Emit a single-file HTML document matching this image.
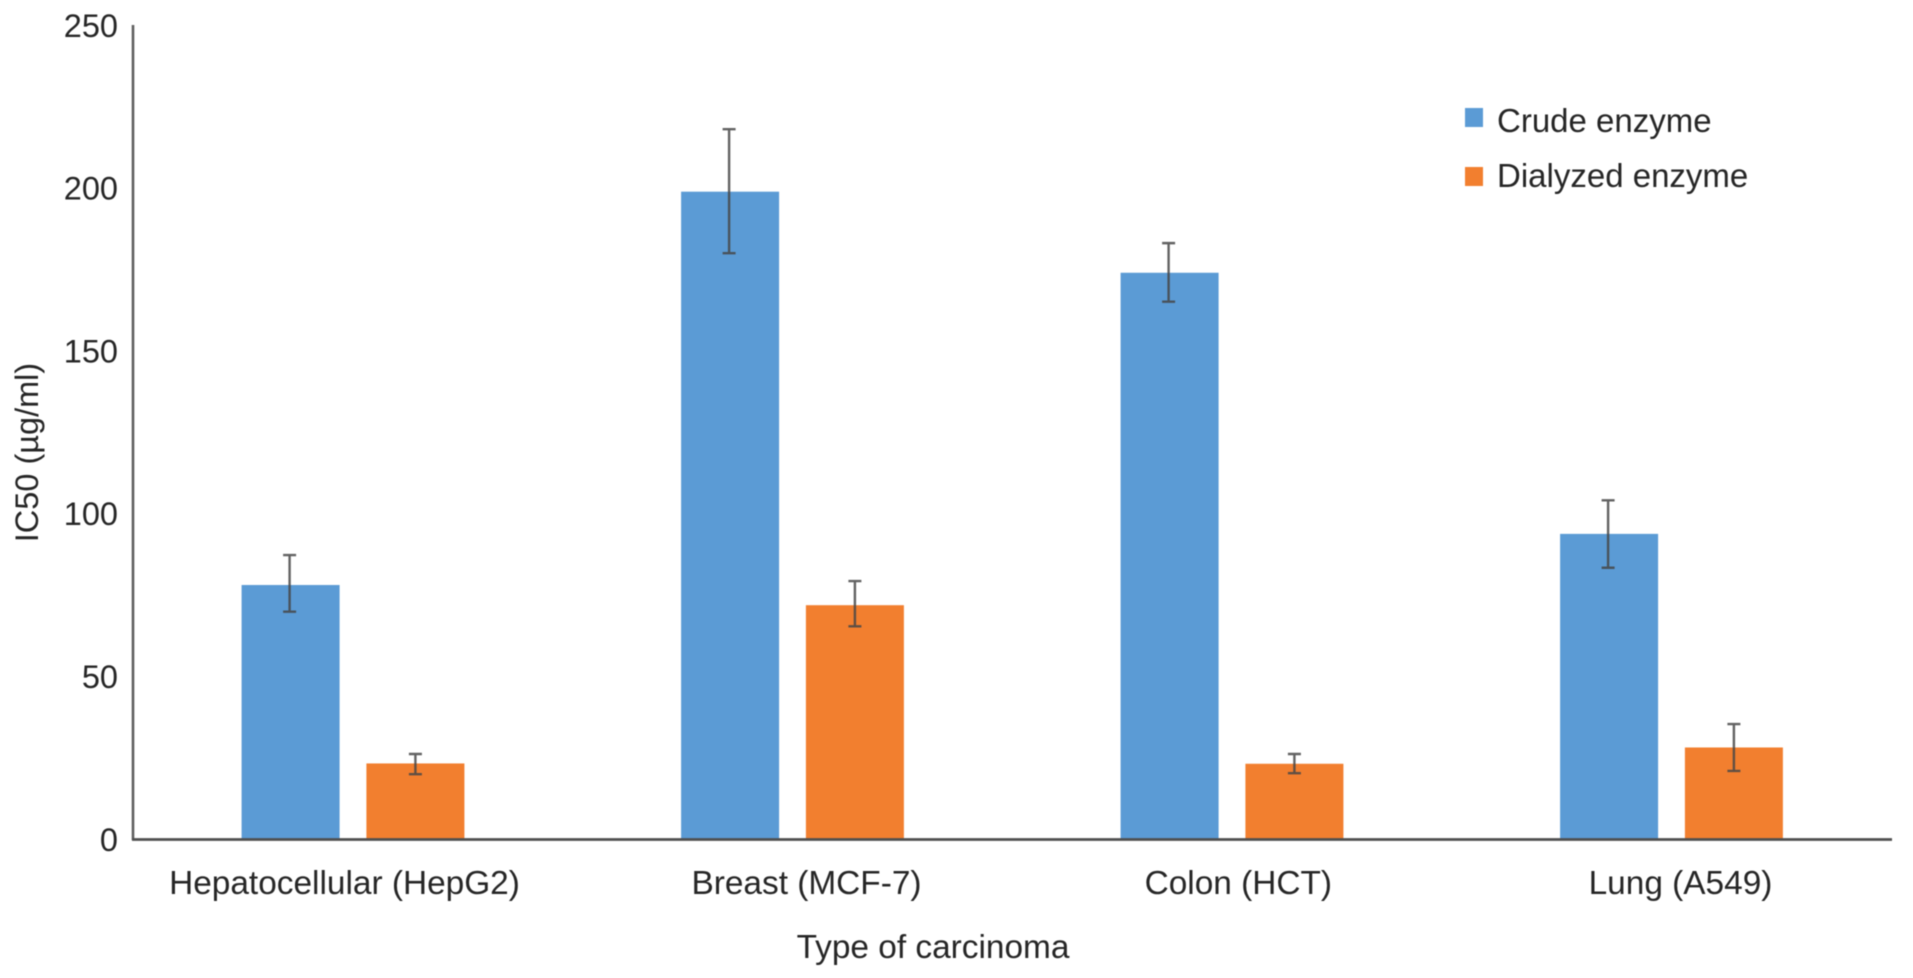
<!DOCTYPE html>
<html lang="en">
<head>
<meta charset="utf-8">
<title>IC50 by type of carcinoma</title>
<style>
  html, body { margin: 0; padding: 0; background: #fff; }
  body { width: 1913px; height: 978px; overflow: hidden; }
  svg { display: block; filter: blur(0.6px); }
  text { font-family: "Liberation Sans", Arial, sans-serif; fill: #262626; font-size: 32.5px; }
  .cat { font-size: 33.4px; }
</style>
</head>
<body>
<svg id="chart" xmlns="http://www.w3.org/2000/svg" width="1913" height="978" viewBox="0 0 1913 978">
  <rect x="0" y="0" width="1913" height="978" fill="#ffffff"/>
  <g id="bars"></g>
  <g id="errors"></g>
  <line x1="133" y1="25" x2="133" y2="840" stroke="#5f5f5f" stroke-width="2.6"/>
  <line x1="132" y1="839.5" x2="1892" y2="839.5" stroke="#4f4f4f" stroke-width="2.8"/>
  <g id="y-ticks"></g>
  <g id="x-ticks"></g>
  <text transform="translate(38 452.5) rotate(-90)" text-anchor="middle">IC50 (µg/ml)</text>
  <text class="cat" x="933" y="958" text-anchor="middle">Type of carcinoma</text>
  <g>
    <g>
      <rect x="1465" y="108" width="18" height="19" fill="#5b9bd5"/>
      <text x="1497" y="132" style="font-size:33px">Crude enzyme</text>
    </g>
    <g>
      <rect x="1465" y="167" width="18" height="19" fill="#f27f2f"/>
      <text x="1497" y="187" style="font-size:33px">Dialyzed enzyme</text>
    </g>
  </g>
</svg>
<script>
const categories = ["Hepatocellular (HepG2)", "Breast (MCF-7)", "Colon (HCT)", "Lung (A549)"];
const yTickValues = [0, 50, 100, 150, 200, 250];
const crudeValues = [78.1, 198.9, 174, 93.8];
const crudeErrHigh = [87.3, 218.1, 183.1, 104.1];
const crudeErrLow = [69.9, 180, 165.1, 83.4];
const dialyzedValues = [23.3, 71.9, 23.2, 28.2];
const dialyzedErrHigh = [26.2, 79.3, 26.2, 35.4];
const dialyzedErrLow = [20, 65.4, 20.3, 21];

const SVG_NS = "http://www.w3.org/2000/svg";
const PLOT_BOTTOM = 839.3;
const PX_PER_UNIT = 3.256;
const GROUP_LEFT = 241.6;
const GROUP_STEP = 439.5;
const BAR_WIDTH = 98;
const DIALYZED_OFFSET = 124.8;
const CAP_HALF = 6.5;

function yScale(v) { return PLOT_BOTTOM - v * PX_PER_UNIT; }
function groupX(i) { return GROUP_LEFT + i * GROUP_STEP; }

function drawBar(parent, name, x, value, color) {
  const r = document.createElementNS(SVG_NS, "rect");
  
  
  r.setAttribute("x", x);
  r.setAttribute("y", yScale(value));
  r.setAttribute("width", BAR_WIDTH);
  r.setAttribute("height", PLOT_BOTTOM - yScale(value));
  r.setAttribute("fill", color);
  parent.appendChild(r);
}

function drawError(parent, name, cx, hi, lo) {
  const p = document.createElementNS(SVG_NS, "path");
  
  
  const t = yScale(hi);
  const b = yScale(lo);
  p.setAttribute("d",
    "M" + (cx - CAP_HALF) + " " + t + "H" + (cx + CAP_HALF) +
    "M" + cx + " " + t + "V" + b +
    "M" + (cx - CAP_HALF) + " " + b + "H" + (cx + CAP_HALF));
  p.setAttribute("fill", "none");
  p.setAttribute("stroke", "#474747");
  p.setAttribute("stroke-opacity", "0.85");
  p.setAttribute("stroke-width", "2.4");
  parent.appendChild(p);
}

function render() {
  const bars = document.getElementById("bars");
  const errors = document.getElementById("errors");
  const xTicks = document.getElementById("x-ticks");
  const yTicks = document.getElementById("y-ticks");
  const labelNudge = [-8.5, 14, 6.3, 9];

  categories.forEach(function (cat, i) {
    const x0 = groupX(i);
    const x1 = x0 + DIALYZED_OFFSET;
    drawBar(bars, "bar-crude-" + (i + 1), x0, crudeValues[i], "#5b9bd5");
    drawBar(bars, "bar-dialyzed-" + (i + 1), x1, dialyzedValues[i], "#f27f2f");
    drawError(errors, "error-bar-crude-" + (i + 1), x0 + BAR_WIDTH / 2 - 1, crudeErrHigh[i], crudeErrLow[i]);
    drawError(errors, "error-bar-dialyzed-" + (i + 1), x1 + BAR_WIDTH / 2, dialyzedErrHigh[i], dialyzedErrLow[i]);

    const t = document.createElementNS(SVG_NS, "text");
    
    
    t.setAttribute("class", "cat");
    t.setAttribute("x", x0 + (DIALYZED_OFFSET + BAR_WIDTH) / 2 + labelNudge[i]);
    t.setAttribute("y", 894);
    t.setAttribute("text-anchor", "middle");
    t.textContent = cat;
    xTicks.appendChild(t);
  });

  yTickValues.forEach(function (v) {
    const t = document.createElementNS(SVG_NS, "text");
    
    
    t.setAttribute("x", 118);
    t.setAttribute("y", yScale(v) + 11.5);
    t.setAttribute("text-anchor", "end");
    t.textContent = String(v);
    yTicks.appendChild(t);
  });
}
render();
</script>
</body>
</html>
